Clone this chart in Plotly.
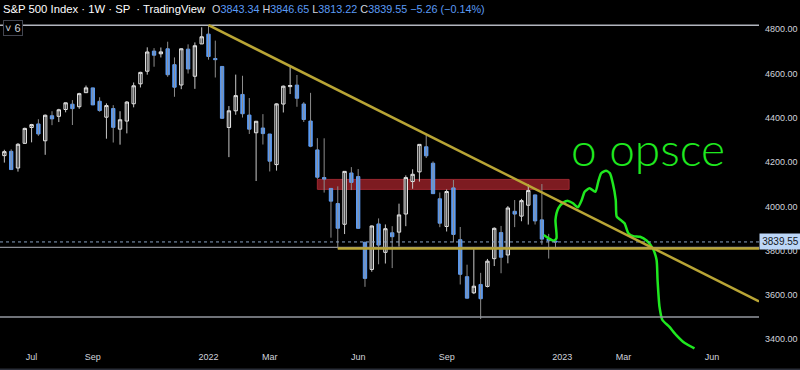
import plotly.graph_objects as go
from datetime import datetime

# ---------------- data (weekly S&P 500 candles, Monday-dated) ----------------
dates = [
    "2021-05-31", "2021-06-07", "2021-06-14", "2021-06-21", "2021-06-28",
    "2021-07-05", "2021-07-12", "2021-07-19", "2021-07-26", "2021-08-02",
    "2021-08-09", "2021-08-16", "2021-08-23", "2021-08-30", "2021-09-06",
    "2021-09-13", "2021-09-20", "2021-09-27", "2021-10-04", "2021-10-11",
    "2021-10-18", "2021-10-25", "2021-11-01", "2021-11-08", "2021-11-15",
    "2021-11-22", "2021-11-29", "2021-12-06", "2021-12-13", "2021-12-20",
    "2021-12-27", "2022-01-03", "2022-01-10", "2022-01-17", "2022-01-24",
    "2022-01-31", "2022-02-07", "2022-02-14", "2022-02-21", "2022-02-28",
    "2022-03-07", "2022-03-14", "2022-03-21", "2022-03-28", "2022-04-04",
    "2022-04-11", "2022-04-18", "2022-04-25", "2022-05-02", "2022-05-09",
    "2022-05-16", "2022-05-23", "2022-05-30", "2022-06-06", "2022-06-13",
    "2022-06-20", "2022-06-27", "2022-07-04", "2022-07-11", "2022-07-18",
    "2022-07-25", "2022-08-01", "2022-08-08", "2022-08-15", "2022-08-22",
    "2022-08-29", "2022-09-05", "2022-09-12", "2022-09-19", "2022-09-26",
    "2022-10-03", "2022-10-10", "2022-10-17", "2022-10-24", "2022-10-31",
    "2022-11-07", "2022-11-14", "2022-11-21", "2022-11-28", "2022-12-05",
    "2022-12-12", "2022-12-19", "2022-12-26",
]
opens = [
    4216.52, 4229.34, 4248.87, 4173.40, 4284.90,
    4356.46, 4372.41, 4296.40, 4409.58, 4406.86,
    4437.77, 4461.65, 4450.29, 4513.76, 4535.38,
    4474.81, 4402.95, 4442.12, 4348.84, 4385.44,
    4463.72, 4553.69, 4610.62, 4701.50, 4689.30,
    4712.00, 4640.25, 4548.37, 4710.30, 4587.90,
    4733.99, 4778.14, 4668.00, 4632.24, 4356.32,
    4431.79, 4505.75, 4412.61, 4332.74, 4354.17,
    4327.01, 4188.82, 4462.40, 4541.09, 4547.97,
    4462.64, 4385.63, 4255.34, 4130.61, 4081.27,
    4013.02, 3919.42, 4151.09, 4134.72, 3838.15,
    3715.31, 3920.76, 3792.61, 3880.94, 3883.79,
    3965.72, 4112.38, 4155.93, 4269.37, 4195.08,
    4034.58, 3909.43, 4083.67, 3849.91, 3682.72,
    3609.78, 3647.51, 3638.65, 3764.00, 3881.85,
    3780.71, 3977.97, 3956.23, 4005.36, 4052.02,
    3939.29, 3853.79, 3843.34,
]
highs = [
    4233.94, 4255.84, 4257.68, 4286.12, 4355.78,
    4372.87, 4393.68, 4415.18, 4429.97, 4440.82,
    4468.00, 4480.26, 4513.33, 4545.85, 4535.38,
    4492.99, 4465.40, 4457.30, 4429.97, 4475.82,
    4559.67, 4608.08, 4718.50, 4714.92, 4717.75,
    4743.83, 4672.95, 4713.57, 4731.99, 4740.74,
    4808.93, 4818.62, 4748.83, 4632.24, 4453.23,
    4595.31, 4590.03, 4489.55, 4385.00, 4416.78,
    4327.01, 4465.40, 4546.03, 4637.30, 4593.45,
    4471.00, 4512.94, 4308.45, 4307.66, 4081.27,
    4090.72, 4158.49, 4177.51, 4168.78, 3838.15,
    3913.65, 3945.86, 3918.50, 3910.74, 4012.44,
    4140.15, 4167.66, 4280.47, 4325.28, 4203.04,
    4062.99, 4076.81, 4119.28, 3907.07, 3736.74,
    3806.91, 3700.00, 3762.79, 3905.42, 3911.79,
    4001.48, 4028.84, 4034.02, 4100.51, 4052.45,
    4100.96, 3876.00, 3846.65,
]
lows = [
    4167.59, 4198.01, 4164.40, 4157.19, 4282.72,
    4289.37, 4318.69, 4233.13, 4367.00, 4381.00,
    4425.00, 4367.73, 4441.00, 4513.00, 4457.66,
    4427.76, 4305.91, 4288.52, 4278.94, 4329.92,
    4447.47, 4537.36, 4595.06, 4630.86, 4672.78,
    4585.43, 4495.12, 4529.51, 4600.22, 4531.10,
    4733.99, 4662.74, 4582.24, 4395.34, 4222.62,
    4414.00, 4401.41, 4327.22, 4114.65, 4279.54,
    4157.87, 4161.72, 4424.30, 4507.57, 4450.04,
    4381.34, 4267.62, 4124.28, 4062.51, 3858.87,
    3810.32, 3875.13, 4073.85, 3900.16, 3636.87,
    3705.00, 3738.67, 3742.06, 3721.56, 3818.63,
    3910.74, 4079.81, 4112.09, 4218.70, 4057.66,
    3906.21, 3886.75, 3837.08, 3647.47, 3584.13,
    3604.17, 3491.58, 3634.00, 3730.73, 3698.15,
    3743.00, 3906.54, 3933.00, 3918.00, 3918.39,
    3827.00, 3764.49, 3813.22,
]
closes = [
    4229.89, 4247.44, 4166.45, 4280.70, 4352.34,
    4369.55, 4327.16, 4411.79, 4395.26, 4436.52,
    4468.00, 4441.67, 4509.37, 4535.43, 4458.58,
    4432.99, 4455.48, 4357.04, 4391.34, 4471.37,
    4544.90, 4605.38, 4697.53, 4682.85, 4697.96,
    4594.62, 4538.43, 4712.02, 4620.64, 4725.79,
    4766.18, 4677.03, 4662.85, 4397.94, 4431.85,
    4500.53, 4418.64, 4348.87, 4384.65, 4328.87,
    4204.31, 4463.12, 4543.06, 4545.86, 4488.28,
    4392.59, 4271.78, 4131.93, 4123.34, 4023.89,
    3901.36, 4158.24, 4108.54, 3900.86, 3674.84,
    3911.74, 3825.33, 3899.38, 3863.16, 3961.63,
    4130.29, 4145.19, 4280.15, 4228.48, 4057.66,
    3924.26, 4067.36, 3873.33, 3693.23, 3585.62,
    3639.66, 3583.07, 3752.75, 3901.06, 3770.55,
    3992.93, 3965.34, 4026.12, 4071.70, 3934.38,
    3852.36, 3844.82, 3839.55,
]

tick_dates = ["2021-07-05", "2021-09-06", "2022-01-03", "2022-03-07", "2022-06-06",
              "2022-09-05", "2023-01-02", "2023-03-06", "2023-06-05"]
tick_labels = ["Jul", "Sep", "2022", "Mar", "Jun", "Sep", "2023", "Mar", "Jun"]
price_ticks = [3400, 3600, 3800, 4000, 4200, 4400, 4600, 4800]

last_price = 3839.55
prev_close = 3844.81
all_time_high = 4818.62
october_low = 3500.0
support_gray = 3815.4
support_gold_start = "2022-05-16"
support_gold = 3810.32
trend_p1 = ("2022-01-03", 4818.62)
trend_p2 = ("2022-08-15", 4325.28)
zone_start, zone_end = "2022-04-25", "2023-01-09"
zone_low, zone_high = 4077, 4122

drawing_dates = [
    "2022-12-14", "2022-12-19", "2022-12-24", "2022-12-27", "2022-12-26",
    "2022-12-29", "2023-01-03", "2023-01-08", "2023-01-13", "2023-01-18",
    "2023-01-22", "2023-01-25", "2023-01-30", "2023-02-05", "2023-02-08",
    "2023-02-11", "2023-02-16", "2023-02-20", "2023-02-23", "2023-02-26",
    "2023-02-27", "2023-03-03", "2023-03-07", "2023-03-11", "2023-03-16",
    "2023-03-23", "2023-03-30", "2023-04-05", "2023-04-09", "2023-04-10",
    "2023-04-12", "2023-04-15", "2023-04-22", "2023-04-29", "2023-05-08",
    "2023-05-18",
]
drawing_prices = [
    3871, 3856, 3845, 3856, 3939,
    3992, 4017, 4025, 4014, 3996,
    4029, 4066, 4082, 4066, 4112,
    4150, 4161, 4150, 4104, 4029,
    3954, 3939, 3924, 3879, 3866,
    3863, 3845, 3811, 3758, 3668,
    3547, 3487, 3457, 3420, 3383,
    3359,
]
drawing_text = "o opsce"
drawing_text_date, drawing_text_price = "2023-03-31", 4262

x_range = ["2021-06-02 12:00", "2023-07-23 09:00"]
y_range = [3351.5, 4851.0]

# ---------------- styling ----------------
BG = "#000000"
UP_LINE = "#ededed"
DOWN = "#5b9cf6"
WICK_UP = "#c8c8c8"
WICK_DOWN = "#8c8c8c"
GOLD = "#b9a535"
GREEN = "#1fe81f"
TXT = "#d1d4dc"
FONT = "Liberation Sans"

fig = go.Figure()

# wicks
for is_up, color in ((True, WICK_UP), (False, WICK_DOWN)):
    wx, wy = [], []
    for d, o, h, l, c in zip(dates, opens, highs, lows, closes):
        if (c >= o) == is_up:
            wx += [d, d, None]
            wy += [l, h, None]
    fig.add_trace(go.Scatter(x=wx, y=wy, mode="lines",
                             line=dict(color=color, width=1),
                             hoverinfo="skip", showlegend=False))

# bodies
fig.add_trace(go.Candlestick(
    x=dates, open=opens, close=closes,
    high=[max(o, c) for o, c in zip(opens, closes)],
    low=[min(o, c) for o, c in zip(opens, closes)],
    increasing=dict(line=dict(color=UP_LINE, width=1), fillcolor=BG),
    decreasing=dict(line=dict(color=DOWN, width=1), fillcolor=DOWN),
    whiskerwidth=0, showlegend=False, hoverinfo="skip",
))

# green freehand drawing
fig.add_trace(go.Scatter(x=drawing_dates, y=drawing_prices, mode="lines",
                         line=dict(color=GREEN, width=2.5, shape="spline", smoothing=0.6),
                         hoverinfo="skip", showlegend=False))

# trendline extended to right edge
t1 = datetime.fromisoformat(trend_p1[0])
t2 = datetime.fromisoformat(trend_p2[0])
tend = datetime.fromisoformat(x_range[1])
slope = (trend_p2[1] - trend_p1[1]) / (t2 - t1).total_seconds()
trend_end_price = trend_p1[1] + slope * (tend - t1).total_seconds()

shapes = [
    dict(type="rect", xref="x", yref="y", x0=zone_start, x1=zone_end,
         y0=zone_low, y1=zone_high, fillcolor="#7d1b21",
         line=dict(color="#9c2730", width=1), layer="below"),
    dict(type="line", xref="paper", yref="y", x0=0, x1=1,
         y0=all_time_high, y1=all_time_high, line=dict(color="#b2b5be", width=1.5)),
    dict(type="line", xref="paper", yref="y", x0=0, x1=1,
         y0=october_low, y1=october_low, line=dict(color="#9598a1", width=1.5)),
    dict(type="line", xref="paper", yref="y", x0=0, x1=1,
         y0=support_gray, y1=support_gray, line=dict(color="#8a8d95", width=1.2)),
    dict(type="line", xref="paper", yref="y", x0=0, x1=1,
         y0=last_price, y1=last_price, line=dict(color="#8aa2c4", width=1, dash="dot")),
    dict(type="line", xref="x", yref="y", x0=support_gold_start, x1=x_range[1],
         y0=support_gold, y1=support_gold, line=dict(color=GOLD, width=2.5)),
    dict(type="line", xref="x", yref="y", x0=trend_p1[0], x1=x_range[1],
         y0=trend_p1[1], y1=trend_end_price, line=dict(color=GOLD, width=2.5)),
    dict(type="line", xref="paper", yref="paper", x0=0, x1=1.06,
         y0=-20 / 332, y1=-20 / 332, line=dict(color="#2a2e39", width=3)),
]

change = last_price - prev_close
pct = change / prev_close * 100
ohlc_text = (
    f'<span style="color:{TXT}">O</span><span style="color:{DOWN}">{opens[-1]:.2f}</span> '
    f'<span style="color:{TXT}">H</span><span style="color:{DOWN}">{highs[-1]:.2f}</span> '
    f'<span style="color:{TXT}">L</span><span style="color:{DOWN}">{lows[-1]:.2f}</span> '
    f'<span style="color:{TXT}">C</span><span style="color:{DOWN}">{closes[-1]:.2f}</span> '
    f'<span style="color:{DOWN}">\u2212{abs(change):.2f} (\u2212{abs(pct):.2f}%)</span>'
)

PLOT_W = 759
PLOT_H = 332

annotations = [
    dict(xref="paper", yref="paper", x=1 / PLOT_W, y=1 + 9 / PLOT_H, xanchor="left",
         yanchor="middle", showarrow=False,
         text="S&amp;P 500 Index \u00b7 1W \u00b7 SP &nbsp;\u00b7 TradingView",
         font=dict(family=FONT, size=11.3, color="#ffffff")),
    dict(xref="paper", yref="paper", x=210 / PLOT_W, y=1 + 9 / PLOT_H, xanchor="left",
         yanchor="middle", showarrow=False, text=ohlc_text,
         font=dict(family=FONT, size=10.8, color=TXT)),
    dict(xref="paper", yref="paper", x=3 / PLOT_W, y=1 - 2 / PLOT_H, xanchor="left",
         yanchor="top", showarrow=False, text="\u02c5 6",
         font=dict(family=FONT, size=11, color=TXT),
         bordercolor="#434651", borderwidth=1, borderpad=1, bgcolor=BG),
    dict(xref="paper", yref="y", x=1, y=last_price, xanchor="left", yanchor="middle",
         showarrow=False, text=f"{last_price:.2f}", width=37, borderpad=2,
         bgcolor="#bcd6f7", font=dict(family=FONT, size=10, color="#131722")),
    dict(xref="x", yref="y", x=drawing_text_date, y=drawing_text_price,
         showarrow=False, text=drawing_text,
         font=dict(family="Lato", size=46, color=GREEN, weight=300)),
]

fig.update_layout(
    width=800, height=370,
    margin=dict(l=0, r=41, t=18, b=20),
    paper_bgcolor=BG, plot_bgcolor=BG,
    showlegend=False,
    shapes=shapes,
    annotations=annotations,
    xaxis=dict(type="date", range=x_range, showgrid=False, zeroline=False,
               tickmode="array", tickvals=tick_dates, ticktext=tick_labels,
               tickfont=dict(family=FONT, size=9, color=TXT), ticks="",
               showline=False, rangeslider=dict(visible=False), fixedrange=True),
    yaxis=dict(side="right", range=y_range, showgrid=False, zeroline=False,
               tickmode="array", tickvals=price_ticks,
               ticktext=[f"{v:.2f}" for v in price_ticks],
               tickfont=dict(family=FONT, size=9, color=TXT), ticks="",
               ticklabelstandoff=5, showline=False, fixedrange=True),
    hovermode=False,
)

fig.write_html(
    "out.html",
    config={"displayModeBar": False},
    post_script="document.body.style.margin='0';document.body.style.background='#000';",
)
